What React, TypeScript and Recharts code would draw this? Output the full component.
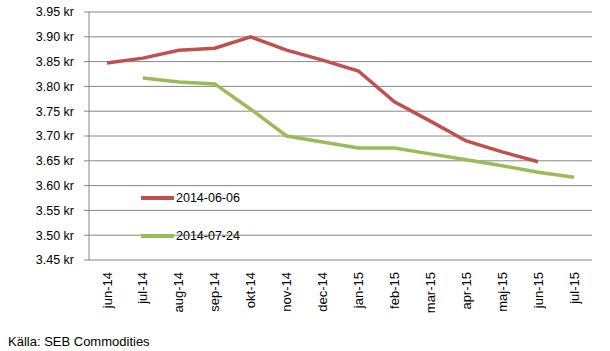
import React from "react";
import { LineChart, Line, XAxis, YAxis, CartesianGrid } from "recharts";

const months = [
  "jun-14", "jul-14", "aug-14", "sep-14", "okt-14", "nov-14", "dec-14",
  "jan-15", "feb-15", "mar-15", "apr-15", "maj-15", "jun-15", "jul-15",
];
const june06 = [3.847, 3.857, 3.873, 3.877, 3.9, 3.873, 3.853, 3.831, 3.769, 3.73, 3.69, 3.668, 3.648, null];
const july24 = [null, 3.817, 3.809, 3.805, 3.754, 3.7, 3.688, 3.676, 3.676, 3.664, 3.652, 3.64, 3.627, 3.617];
const yTicks = [3.45, 3.5, 3.55, 3.6, 3.65, 3.7, 3.75, 3.8, 3.85, 3.9, 3.95];
const boundaryTicks = months.map((_, i) => i).concat(months.length);

const data = months.map((m, i) => ({ month: m, a: june06[i], b: july24[i] }));

const font = "'Liberation Sans', Arial, sans-serif";
const RED = "#C0504D";
const GREEN = "#9BBB59";

const MonthTick = (props: any) => {
  const { x, y, payload } = props;
  return (
    <text
      x={x}
      y={y}
      dy={4.5}
      transform={`rotate(-90, ${x}, ${y})`}
      textAnchor="end"
      fontSize={13}
      fontFamily={font}
      fill="#000"
    >
      {payload.value}
    </text>
  );
};

// legend sits inside the plot area, like in the Excel original
const LegendBox = () => (
  <div style={{ position: "absolute", left: 141, top: 190, fontFamily: font, fontSize: 12.5, color: "#000" }}>
    {[
      { c: RED, t: "2014-06-06" },
      { c: GREEN, t: "2014-07-24" },
    ].map((r, i) => (
      <div key={r.t} style={{ display: "flex", alignItems: "center", height: 16, marginBottom: i === 0 ? 22 : 0 }}>
        <span style={{ display: "inline-block", width: 33, height: 4, background: r.c, marginRight: 2 }} />
        <span>{r.t}</span>
      </div>
    ))}
  </div>
);

export default function App() {
  return (
    <div style={{ position: "absolute", left: 0, top: 0, width: 610, height: 351, background: "#fff" }}>
      <LineChart width={610} height={351} data={data} margin={{ top: 12, right: 18, bottom: 0, left: 0 }}>
        <CartesianGrid vertical={false} stroke="#868686" strokeWidth={1} />
        <XAxis
          xAxisId="edges"
          type="number"
          domain={[0, months.length]}
          ticks={boundaryTicks}
          allowDataOverflow
          height={0}
          tickSize={5}
          tickFormatter={() => ""}
          stroke="#868686"
        />
        <XAxis
          xAxisId="months"
          dataKey="month"
          height={91}
          padding={{ left: 18, right: 18 }}
          axisLine={false}
          tickLine={false}
          tickMargin={6}
          interval={0}
          tick={<MonthTick />}
        />
        <YAxis
          width={89}
          domain={[3.45, 3.95]}
          ticks={yTicks}
          interval={0}
          tickFormatter={(v: number) => `${v.toFixed(2)} kr`}
          stroke="#868686"
          tickSize={5}
          tickMargin={10}
          tick={{ fill: "#000", fontSize: 12.5, fontFamily: font }}
        />
        <Line
          xAxisId="months"
          dataKey="a"
          stroke={RED}
          strokeWidth={3.5}
          dot={false}
          isAnimationActive={false}
        />
        <Line
          xAxisId="months"
          dataKey="b"
          stroke={GREEN}
          strokeWidth={3.5}
          dot={false}
          isAnimationActive={false}
        />
      </LineChart>
      <LegendBox />
      <div style={{ position: "absolute", left: 8, top: 334, fontFamily: font, fontSize: 13, color: "#000" }}>
        Källa: SEB Commodities
      </div>
    </div>
  );
}
